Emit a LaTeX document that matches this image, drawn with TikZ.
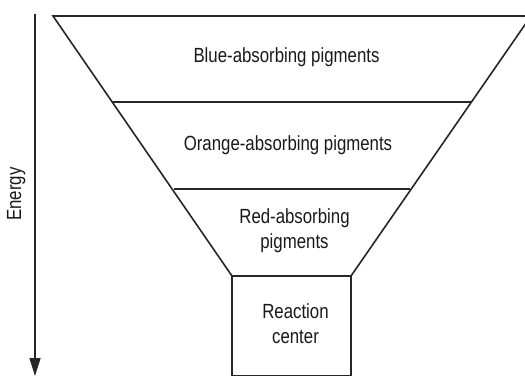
\documentclass[tikz,border=0pt]{standalone}
\usepackage{fontspec}
\setmainfont[FakeStretch=0.82]{Liberation Sans}
\usetikzlibrary{arrows.meta}
\begin{document}
\begin{tikzpicture}[x=1pt,y=-1pt,
  edge/.style={line width=1.6pt,line join=miter,draw=black!85},
  lbl/.style={font=\fontsize{20.5}{25}\selectfont,text=black!90,inner sep=0pt,align=center}]
\useasboundingbox (0,0) rectangle (525,377);
\clip (0,0) rectangle (525,377);
% corners
\coordinate (tl) at (53,16);
\coordinate (tr) at (531,16);
\coordinate (a1) at (113,102);
\coordinate (b1) at (471,102);
\coordinate (a2) at (174,189);
\coordinate (b2) at (410,189);
\coordinate (a3) at (232,276);
\coordinate (b3) at (351,276);
\coordinate (c3) at (232,375.5);
\coordinate (d3) at (351,375.5);
% funnel
\draw[edge] (a3) -- (tl) -- (tr) -- (b3);
\draw[edge] (a1) -- (b1);
\draw[edge] (a2) -- (b2);
\draw[edge] (a3) -- (b3) -- (d3) -- (c3) -- cycle;
% energy arrow
\coordinate (e0) at (35,14);
\coordinate (e1) at (35,376);
\draw[line width=1.6pt,draw=black!85,-{Triangle[length=18pt,width=11pt]}] (e0) -- (e1);
\node[lbl,anchor=base,rotate=90] (energy) at (21,194) {Energy};
% labels
\node[lbl,anchor=base] (blue) at (286.5,62.7) {Blue-absorbing pigments};
\node[lbl,anchor=base] (orange) at (288,151) {Orange-absorbing pigments};
\node[lbl] (red) at (294.5,230.5) {Red-absorbing\\pigments};
\node[lbl] (rc) at (295.5,323.5) {Reaction\\center};
\end{tikzpicture}
\end{document}
